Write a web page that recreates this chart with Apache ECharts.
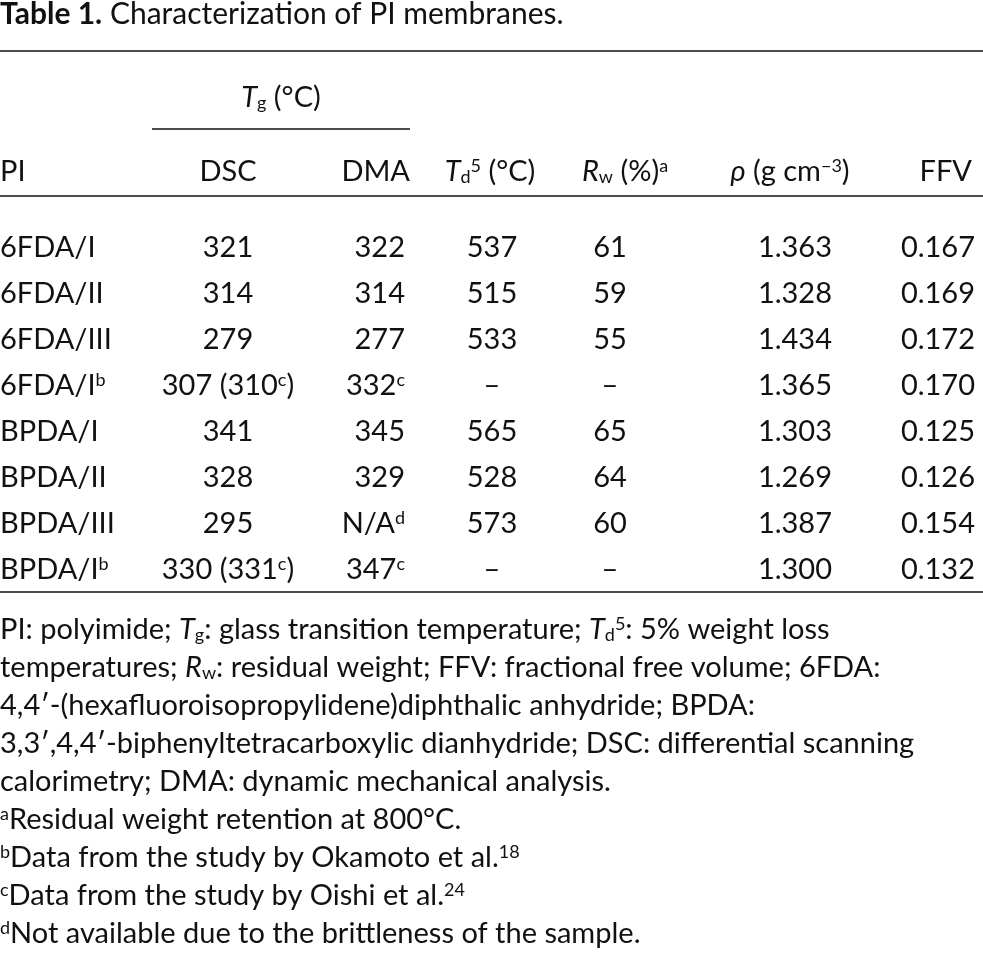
<!DOCTYPE html>
<html><head><meta charset="utf-8">
<script src="https://cdn.jsdelivr.net/npm/echarts@6/dist/echarts.min.js"></script>
<style>html,body{margin:0;padding:0;background:#fff}#c{width:983px;height:963px}</style>
</head><body><div id="c"></div>
<script>
const rows = ["6FDA/I","6FDA/II","6FDA/III","6FDA/I{sup|b}","BPDA/I","BPDA/II","BPDA/III","BPDA/I{sup|b}"];
const dsc = ["321","314","279","307 (310{sup|c})","341","328","295","330 (331{sup|c})"];
const dma = ["322","314","277","332{sup|c}","345","329","N/A{sup|d}","347{sup|c}"];
const td5 = ["537","515","533","–","565","528","573","–"];
const rw = ["61","59","55","–","65","64","60","–"];
const rho = ["1.363","1.328","1.434","1.365","1.303","1.269","1.387","1.300"];
const ffv = ["0.167","0.169","0.172","0.170","0.125","0.126","0.154","0.132"];
const notes = [
 "PI: polyimide; {i|T}{sub|g}: glass transition temperature; {i|T}{sub|d}{sup|5}: 5% weight loss",
 "temperatures; {i|R}{sub|w}: residual weight; FFV: fractional free volume; 6FDA:",
 "4,4′-(hexafluoroisopropylidene)diphthalic anhydride; BPDA:",
 "3,3′,4,4′-biphenyltetracarboxylic dianhydride; DSC: differential scanning",
 "calorimetry; DMA: dynamic mechanical analysis.",
 "{sup|a}Residual weight retention at 800°C.",
 "{sup|b}Data from the study by Okamoto et al.{sup|18}",
 "{sup|c}Data from the study by Oishi et al.{sup|24}",
 "{sup|d}Not available due to the brittleness of the sample."
];
const FS = 29, F = 'Lato';
const rich = {
  i:{fontStyle:'italic',fontSize:FS,fontFamily:F,fill:'#111'},
  b:{fontWeight:'bold',fontSize:FS+1,fontFamily:F,fill:'#111'},
  sup:{fontSize:18,fontFamily:F,verticalAlign:'top',lineHeight:18,padding:[0,0,20,0],fill:'#111'},
  sub:{fontSize:18,fontFamily:F,verticalAlign:'bottom',lineHeight:18,padding:[20,0,0,0],fill:'#111'}
};
const els = [];
function t(x,y,s,align,fs){
  els.push({type:'text',x:x,y:y,style:{text:s,fill:'#111',fontFamily:F,fontSize:fs||FS,align:align||'left',verticalAlign:'middle',rich:rich}});
}
function line(x1,x2,y,w){els.push({type:'line',shape:{x1:x1,y1:y,x2:x2,y2:y},style:{stroke:'#111',lineWidth:w||1.5}});}
t(0,14,"{b|Table 1.} Characterization of PI membranes.",'left',FS+1);
line(0,983,51);
t(281,98,"{i|T}{sub|g} (°C)","center");
line(152,410,129);
const hy=172;
t(0,hy,"PI");
t(228,hy,"DSC","center");
t(410,hy,"DMA","right");
t(490,hy,"{i|T}{sub|d}{sup|5} (°C)","center");
t(625,hy,"{i|R}{sub|w} (%){sup|a}","center");
t(790,hy,"{i|ρ} (g cm{sup|−3})","center");
t(972,hy,"FFV","right");
line(0,983,196);
rows.forEach((r,k)=>{
  const y=248+k*46;
  t(0,y,r); t(228,y,dsc[k],'center'); t(405,y,dma[k],'right');
  t(492,y,td5[k],'center'); t(610,y,rw[k],'center'); t(832,y,rho[k],'right'); t(975,y,ffv[k],'right');
});
line(0,983,592);
notes.forEach((n,k)=>t(0,630+k*38,n,'left',FS));
const chart = echarts.init(document.getElementById('c'));
chart.setOption({animation:false,graphic:{elements:els}});
</script></body></html>
